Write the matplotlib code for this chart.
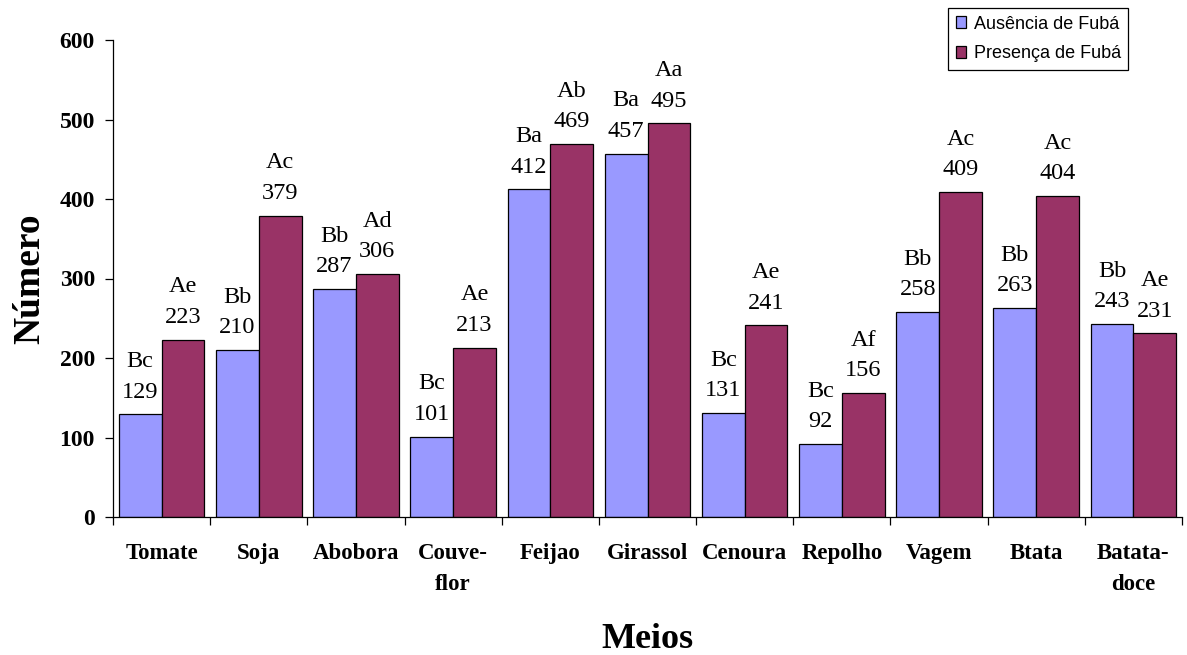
import matplotlib
matplotlib.use("Agg")
import matplotlib.pyplot as plt
import numpy as np

categories = ["Tomate", "Soja", "Abobora", "Couve-\nflor", "Feijao", "Girassol",
              "Cenoura", "Repolho", "Vagem", "Btata", "Batata-\ndoce"]
ausencia = [129, 210, 287, 101, 412, 457, 131, 92, 258, 263, 243]
presenca = [223, 379, 306, 213, 469, 495, 241, 156, 409, 404, 231]
letras_ausencia = ["Bc", "Bb", "Bb", "Bc", "Ba", "Ba", "Bc", "Bc", "Bb", "Bb", "Bb"]
letras_presenca = ["Ae", "Ac", "Ad", "Ae", "Ab", "Aa", "Ae", "Af", "Ac", "Ac", "Ae"]
series_labels = ["Ausência de Fubá", "Presença de Fubá"]
yticks = [0, 100, 200, 300, 400, 500, 600]

COR_AUS = "#9999FF"
COR_PRE = "#993366"
SERIF = "Liberation Serif"

W, H = 1187, 655
fig = plt.figure(figsize=(W / 100, H / 100), dpi=100)
ax = fig.add_axes([113 / W, 1 - 517 / H, (1182 - 113) / W, (517 - 40) / H])

x = np.arange(len(categories))
bw = 0.44
b1 = ax.bar(x - bw / 2, ausencia, bw, color=COR_AUS, edgecolor="black", linewidth=0.9,
            label=series_labels[0])
b2 = ax.bar(x + bw / 2, presenca, bw, color=COR_PRE, edgecolor="black", linewidth=0.9,
            label=series_labels[1])

# value + significance letters above each bar
for bars, vals, lets in ((b1, ausencia, letras_ausencia), (b2, presenca, letras_presenca)):
    for rect, v, l in zip(bars, vals, lets):
        cx = rect.get_x() + rect.get_width() / 2
        ax.annotate(str(v), (cx, v), xytext=(0, 12), textcoords="offset points",
                    ha="center", va="baseline", fontsize=17.5, family=SERIF)
        ax.annotate(l, (cx, v), xytext=(0, 34), textcoords="offset points",
                    ha="center", va="baseline", fontsize=17.5, family=SERIF)

ax.set_xlim(-0.5, len(categories) - 0.5)
ax.set_ylim(0, 600)
ax.set_yticks(yticks)
ax.set_yticklabels([str(t) for t in yticks], fontsize=17, fontweight="bold", family=SERIF)
ax.set_xticks(x)
ax.set_xticklabels(categories, fontsize=16.5, fontweight="bold", family=SERIF,
                   linespacing=1.6, va="top")
ax.set_xticks(np.arange(len(categories) + 1) - 0.5, minor=True)
ax.tick_params(axis="x", which="major", length=0, pad=19)
ax.tick_params(axis="x", which="minor", length=6, width=0.9, direction="out")
ax.tick_params(axis="y", length=6, width=0.9, direction="out", pad=7)

for s in ("top", "right"):
    ax.spines[s].set_visible(False)
for s in ("left", "bottom"):
    ax.spines[s].set_linewidth(0.9)

ax.set_ylabel("Número", fontsize=27, fontweight="bold", family=SERIF, labelpad=9)
ax.set_xlabel("Meios", fontsize=26, fontweight="bold", family=SERIF, labelpad=20)

leg = fig.legend(handles=[b1, b2], loc="upper left", bbox_to_anchor=(948 / W, 1 - 8 / H),
                 frameon=True, fancybox=False, edgecolor="black", framealpha=1,
                 prop={"family": "Liberation Sans", "size": 13},
                 handlelength=0.6, handleheight=0.6, handletextpad=0.4,
                 borderpad=0.42, labelspacing=0.7, borderaxespad=0)
leg.get_frame().set_linewidth(0.9)

fig.savefig("out.png", dpi=100)
